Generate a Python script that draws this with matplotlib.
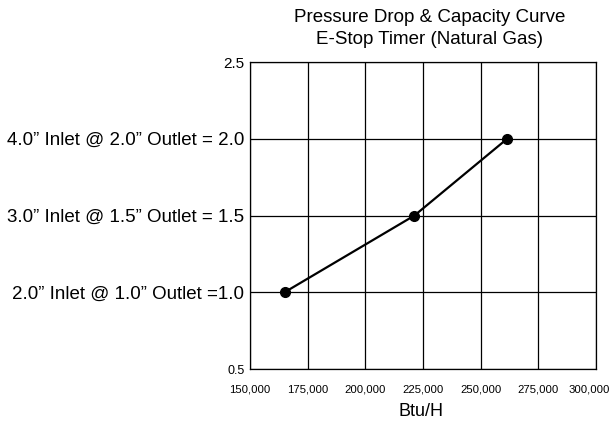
import matplotlib.pyplot as plt
import matplotlib.transforms as mtransforms

# Data
btu_h = [165000, 221300, 261500]
pressure = [1.0, 1.5, 2.0]

x_ticks = [150000, 175000, 200000, 225000, 250000, 275000, 300000]
x_labels = ['150,000', '175,000', '200,000', '225,000', '250,000', '275,000', '300,000']
y_ticks = [0.5, 1.0, 1.5, 2.0, 2.5]
y_labels = ['0.5',
            '2.0\u201d Inlet @ 1.0\u201d Outlet =1.0',
            '3.0\u201d Inlet @ 1.5\u201d Outlet = 1.5',
            '4.0\u201d Inlet @ 2.0\u201d Outlet = 2.0',
            '2.5']

plt.rcParams['font.family'] = ['Liberation Sans', 'DejaVu Sans']

fig = plt.figure(figsize=(6.15, 4.29), dpi=100)
ax = fig.add_axes([250 / 615, 1 - 369 / 429, 346 / 615, 307 / 429])

ax.plot(btu_h, pressure, color='black', lw=1.6, marker='o', ms=7, zorder=3)

ax.set_xlim(150000, 300000)
ax.set_ylim(0.5, 2.5)
ax.set_xticks(x_ticks)
ax.set_xticklabels(x_labels, fontsize=8.2)
ax.set_yticks(y_ticks)
ax.set_yticklabels(y_labels, fontsize=13.5)
ax.tick_params(axis='both', length=0, colors='black')
ax.tick_params(axis='x', pad=11)
ax.tick_params(axis='y', pad=4)
for lab in ax.get_yticklabels():
    if lab.get_text() == '0.5':
        lab.set_fontsize(9)
    elif lab.get_text() == '2.5':
        lab.set_fontsize(11)

# last x label sits a little left of its grid line, as in the reference
last = ax.get_xticklabels()[-1]
last.set_transform(last.get_transform() + mtransforms.ScaledTranslation(-7 / 100, 0, fig.dpi_scale_trans))

ax.grid(True, color='black', lw=0.9)
for s in ax.spines.values():
    s.set_linewidth(0.9)
    s.set_color('black')

fig.text(430 / 615, 1 - 17 / 429, 'Pressure Drop & Capacity Curve', ha='center', va='center', fontsize=13.5)
fig.text(430 / 615, 1 - 40 / 429, 'E-Stop Timer (Natural Gas)', ha='center', va='center', fontsize=13.5)
fig.text(421 / 615, 1 - 412 / 429, 'Btu/H', ha='center', va='center', fontsize=13)

fig.savefig('out.png', dpi=100)
